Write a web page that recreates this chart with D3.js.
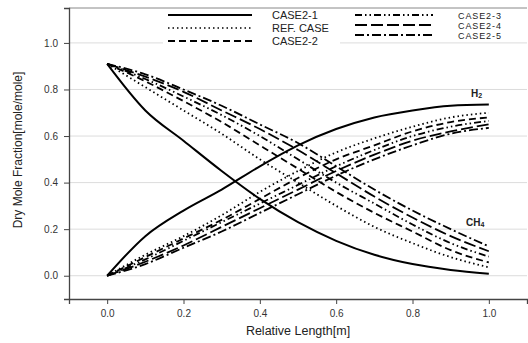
<!DOCTYPE html>
<html>
<head>
<meta charset="utf-8">
<script src="https://cdn.jsdelivr.net/npm/d3@7"></script>
<style>
  body { margin: 0; background: #fff; }
  text { font-family: "Liberation Sans", Arial, sans-serif; }
</style>
</head>
<body>
<div id="chart"></div>
<script>
// relative length positions
var xs = [0, 0.1, 0.2, 0.3, 0.4, 0.5, 0.6, 0.7, 0.8, 0.9, 1.0];

// CH4 dry mole fraction per case
var ch4_c21 = [0.91, 0.71, 0.58, 0.45, 0.33, 0.23, 0.15, 0.09, 0.05, 0.025, 0.008];
var ch4_ref = [0.91, 0.81, 0.71, 0.61, 0.50, 0.40, 0.30, 0.21, 0.14, 0.08, 0.036];
var ch4_c22 = [0.91, 0.835, 0.75, 0.66, 0.56, 0.46, 0.36, 0.27, 0.19, 0.11, 0.057];
var ch4_c23 = [0.91, 0.845, 0.77, 0.69, 0.60, 0.50, 0.40, 0.31, 0.22, 0.14, 0.082];
var ch4_c24 = [0.91, 0.855, 0.79, 0.71, 0.63, 0.54, 0.44, 0.34, 0.25, 0.17, 0.105];
var ch4_c25 = [0.91, 0.865, 0.80, 0.73, 0.65, 0.57, 0.47, 0.37, 0.28, 0.20, 0.126];

// H2 dry mole fraction per case
var h2_c21 = [0, 0.17, 0.28, 0.37, 0.47, 0.56, 0.63, 0.68, 0.71, 0.73, 0.735];
var h2_ref = [0, 0.09, 0.17, 0.26, 0.36, 0.45, 0.53, 0.59, 0.64, 0.68, 0.70];
var h2_c22 = [0, 0.08, 0.16, 0.24, 0.33, 0.42, 0.50, 0.56, 0.62, 0.66, 0.68];
var h2_c23 = [0, 0.07, 0.15, 0.23, 0.31, 0.39, 0.47, 0.54, 0.60, 0.64, 0.665];
var h2_c24 = [0, 0.06, 0.13, 0.21, 0.29, 0.37, 0.45, 0.52, 0.58, 0.62, 0.65];
var h2_c25 = [0, 0.05, 0.12, 0.19, 0.27, 0.35, 0.43, 0.50, 0.56, 0.61, 0.635];

var caseNames = ["CASE2-1", "REF. CASE", "CASE2-2", "CASE2-3", "CASE2-4", "CASE2-5"];
var xTicks = [0, 0.2, 0.4, 0.6, 0.8, 1.0];
var yTicks = [0, 0.2, 0.4, 0.6, 0.8, 1.0];

var dashes = [null, "1.5,3", "7,4", "7,3,1.5,3,1.5,3", "12,4", "9,3,2,3"];
var ch4All = [ch4_c21, ch4_ref, ch4_c22, ch4_c23, ch4_c24, ch4_c25];
var h2All = [h2_c21, h2_ref, h2_c22, h2_c23, h2_c24, h2_c25];

var width = 528, height = 343;
var mLeft = 69, mRight = 527, mTop = 8, mBottom = 299;

var svg = d3.select("#chart").append("svg")
  .attr("width", width)
  .attr("height", height);

var x = d3.scaleLinear().domain([-0.1, 1.1]).range([mLeft, mRight]);
var y = d3.scaleLinear().domain([-0.1, 1.15]).range([mBottom, mTop]);

// gridlines
svg.append("g").selectAll("line")
  .data(yTicks).enter().append("line")
  .attr("x1", mLeft).attr("x2", mRight)
  .attr("y1", function(d) { return y(d); })
  .attr("y2", function(d) { return y(d); })
  .attr("stroke", "#dcdcdc").attr("stroke-width", 1);

// frame top
svg.append("line").attr("x1", mLeft).attr("x2", mRight).attr("y1", mTop).attr("y2", mTop)
  .attr("stroke", "#888").attr("stroke-width", 1);

// axes
var xAxis = svg.append("g")
  .attr("transform", "translate(0," + mBottom + ")")
  .call(d3.axisBottom(x).tickValues(xTicks).tickFormat(d3.format(".1f")).tickSizeOuter(0).tickSize(5).tickPadding(6));
var yAxis = svg.append("g")
  .attr("transform", "translate(" + mLeft + ",0)")
  .call(d3.axisLeft(y).tickValues(yTicks).tickFormat(d3.format(".1f")).tickSizeOuter(0).tickSize(5).tickPadding(6));

[xAxis, yAxis].forEach(function(a) {
  a.select(".domain").attr("stroke", "#444").attr("stroke-width", 1.3);
  a.selectAll(".tick line").attr("stroke", "#444");
  a.selectAll(".tick text").attr("fill", "#333").style("font-size", "10px")
    .style("font-family", "'Liberation Sans', Arial, sans-serif");
});

svg.append("text")
  .attr("x", (x(0) + x(1)) / 2).attr("y", 335)
  .attr("text-anchor", "middle")
  .style("font-size", "12.5px").attr("fill", "#222")
  .text("Relative Length[m]");

svg.append("text")
  .attr("transform", "translate(22," + 150 + ") rotate(-90)")
  .attr("text-anchor", "middle")
  .style("font-size", "12px").attr("fill", "#222")
  .text("Dry Mole Fraction[mole/mole]");

// curves
var line = d3.line()
  .x(function(d, i) { return x(xs[i]); })
  .y(function(d) { return y(d); })
  .curve(d3.curveMonotoneX);

function drawSet(sets) {
  sets.forEach(function(vals, i) {
    svg.append("path")
      .datum(vals)
      .attr("d", line)
      .attr("fill", "none")
      .attr("stroke", "#000")
      .attr("stroke-width", i == 0 ? 2 : 1.8)
      .attr("stroke-dasharray", dashes[i]);
  });
}
drawSet(ch4All);
drawSet(h2All);

// species labels
var lab1 = svg.append("text").attr("x", 471).attr("y", 97)
  .style("font-size", "10px").style("font-weight", "bold").attr("fill", "#222");
lab1.append("tspan").text("H");
lab1.append("tspan").attr("dy", 1).style("font-size", "7px").text("2");

var lab2 = svg.append("text").attr("x", 466).attr("y", 226)
  .style("font-size", "10px").style("font-weight", "bold").attr("fill", "#222");
lab2.append("tspan").text("CH");
lab2.append("tspan").attr("dy", 1).style("font-size", "7px").text("4");

// legend
svg.append("rect").attr("x", 163).attr("y", 9).attr("width", 177).attr("height", 37).attr("fill", "#fff");
svg.append("rect").attr("x", 340).attr("y", 9).attr("width", 187).attr("height", 32).attr("fill", "#fff");

var legRows = [
  { x1: 168, x2: 252, tx: 272, y: 15, fs: 11 },
  { x1: 168, x2: 252, tx: 272, y: 28, fs: 11 },
  { x1: 168, x2: 252, tx: 272, y: 41, fs: 11 },
  { x1: 355, x2: 433, tx: 458, y: 15, fs: 9 },
  { x1: 355, x2: 433, tx: 458, y: 25, fs: 9 },
  { x1: 355, x2: 433, tx: 458, y: 35, fs: 9 }
];
var leg = svg.append("g").selectAll("g")
  .data(caseNames).enter().append("g");
leg.append("line")
  .attr("x1", function(d, i) { return legRows[i].x1; })
  .attr("x2", function(d, i) { return legRows[i].x2; })
  .attr("y1", function(d, i) { return legRows[i].y; })
  .attr("y2", function(d, i) { return legRows[i].y; })
  .attr("stroke", "#000")
  .attr("stroke-width", function(d, i) { return i == 1 ? 1.5 : 2.2; })
  .attr("stroke-dasharray", function(d, i) { return dashes[i]; });
leg.append("text")
  .attr("x", function(d, i) { return legRows[i].tx; })
  .attr("y", function(d, i) { return legRows[i].y + 4; })
  .style("font-size", function(d, i) { return legRows[i].fs + "px"; })
  .style("letter-spacing", function(d, i) { return i > 2 ? "0.9px" : "0px"; })
  .attr("fill", "#222")
  .text(function(d) { return d; });
</script>
</body>
</html>
